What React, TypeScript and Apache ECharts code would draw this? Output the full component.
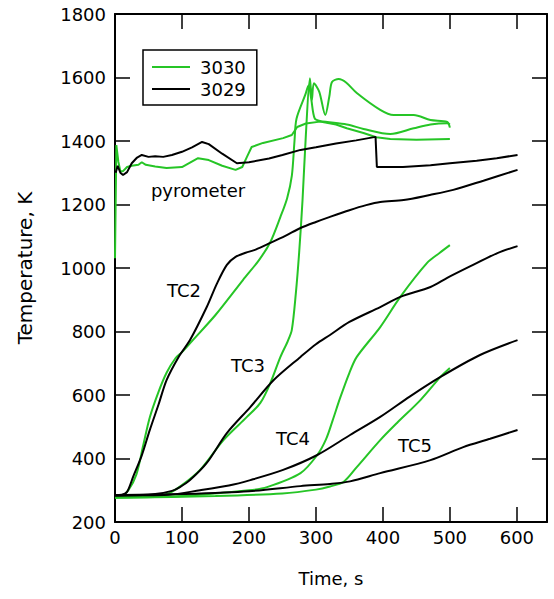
import React, { useEffect, useRef } from "react";
import * as echarts from "echarts";

// Time (s), temperature (K) pairs
const pyro3029 = [[1,1300],[4,1322],[8,1300],[12,1293],[18,1302],[25,1330],[33,1348],[40,1356],[50,1350],[60,1352],[72,1350],[85,1356],[100,1366],[115,1380],[130,1397],[140,1390],[160,1360],[182,1330],[200,1333],[230,1345],[250,1356],[277,1372],[300,1380],[330,1392],[360,1402],[389,1413],[391,1318],[400,1318],[430,1318],[471,1324],[500,1330],[540,1338],[570,1346],[601,1356]];
const pyro3030 = [[0,1031],[2,1387],[5,1335],[8,1305],[12,1305],[18,1318],[25,1322],[35,1325],[40,1333],[46,1325],[60,1320],[77,1315],[100,1318],[124,1346],[140,1340],[160,1322],[180,1309],[190,1318],[197,1350],[204,1381],[221,1394],[251,1409],[264,1419],[272,1444],[285,1455],[306,1461],[330,1452],[346,1440],[371,1425],[390,1412],[411,1406],[450,1404],[500,1406]];

const tc2_3029 = [[0,285],[10,286],[18,295],[27,342],[40,410],[52,490],[65,570],[77,647],[95,720],[112,773],[137,877],[152,950],[167,1010],[180,1035],[195,1048],[210,1058],[232,1079],[255,1102],[277,1126],[300,1145],[321,1161],[350,1182],[375,1198],[396,1208],[431,1214],[470,1230],[505,1246],[550,1275],[601,1309]];
const tc3_3029 = [[0,285],[60,288],[85,298],[97,310],[112,332],[137,386],[167,480],[202,562],[237,647],[277,720],[300,760],[321,789],[350,830],[396,877],[426,909],[471,940],[496,969],[530,1005],[571,1047],[601,1069]];
const tc4_3029 = [[0,284],[80,286],[127,300],[170,315],[202,332],[251,364],[302,411],[351,474],[396,531],[440,595],[486,657],[545,726],[601,773]];
const tc5_3029 = [[0,283],[100,288],[200,297],[277,313],[321,320],[351,328],[396,354],[471,395],[520,436],[560,462],[601,490]];

const tc2_3030 = [[0,278],[10,281],[20,300],[32,350],[42,440],[52,530],[65,610],[77,670],[90,715],[100,735],[115,770],[150,852],[191,962],[215,1025],[232,1082],[247,1161],[257,1220],[264,1290],[268,1400],[271,1470],[284,1545],[289,1575],[293,1532],[298,1472],[306,1463],[346,1452],[371,1438],[411,1422],[446,1440],[471,1452],[496,1456],[500,1452]];
const tc3_3030 = [[0,278],[60,282],[80,290],[100,316],[127,364],[162,458],[197,531],[217,575],[232,638],[247,720],[258,770],[264,805],[270,920],[275,1050],[280,1214],[285,1420],[291,1598],[294,1530],[297,1582],[305,1555],[314,1482],[320,1540],[324,1586],[334,1595],[345,1584],[361,1551],[396,1498],[416,1482],[446,1482],[471,1466],[496,1460],[500,1442]];
const tc4_3030 = [[0,277],[100,282],[200,300],[227,310],[277,354],[302,411],[315,460],[325,520],[336,590],[350,670],[361,720],[396,814],[426,909],[466,1016],[485,1048],[500,1072]];
const tc5_3030 = [[0,276],[150,282],[250,290],[300,302],[321,312],[341,326],[361,373],[396,458],[421,512],[456,584],[486,657],[500,685]];

const xMax = 645;
const yMin = 200;
const yMax = 1800;

const GREEN = "#26c526";
const FONT = "DejaVu Sans";

export default function App() {
  const ref = useRef<HTMLDivElement>(null);
  useEffect(() => {
    const chart = echarts.init(ref.current!, null, { renderer: "svg" });
    const line = (name: string, data: number[][], color: string, smooth: boolean) => ({
      type: "line",
      name,
      data,
      showSymbol: false,
      symbol: "none",
      smooth: smooth ? 0.3 : false,
      lineStyle: { color, width: 2 },
      itemStyle: { color },
      z: color === GREEN ? 2 : 3,
    });
    const axisCommon = {
      type: "value",
      axisLine: { show: true, onZero: false, lineStyle: { color: "#000", width: 2 } },
      axisTick: { show: true, inside: true, length: 15, lineStyle: { color: "#000", width: 1.5 } },
      splitLine: { show: false },
    };
    const labelStyle = { color: "#000", fontSize: 18, fontFamily: FONT };
    const plain = (v: number) => String(v);
    chart.setOption({
      animation: false,
      grid: { left: 115, right: 7, top: 14, bottom: 77 },
      legend: {
        left: 143,
        top: 50,
        orient: "vertical",
        data: ["3030", "3029"],
        icon: "rect",
        itemWidth: 38,
        itemHeight: 2,
        itemGap: 4,
        padding: [8, 11, 7, 9],
        borderColor: "#000",
        borderWidth: 1.5,
        textStyle: { ...labelStyle, padding: [0, 0, 0, 5] },
      },
      xAxis: [
        {
          ...axisCommon,
          min: 0,
          max: xMax,
          interval: 100,
          position: "bottom",
          axisLabel: { ...labelStyle, margin: 6, showMaxLabel: false, formatter: plain },
          name: "Time, s",
          nameLocation: "middle",
          nameGap: 47,
          nameTextStyle: labelStyle,
        },
        {
          ...axisCommon,
          min: 0,
          max: xMax,
          interval: 100,
          position: "top",
          axisLabel: { show: false },
        },
      ],
      yAxis: [
        {
          ...axisCommon,
          min: yMin,
          max: yMax,
          interval: 200,
          position: "left",
          axisLabel: { ...labelStyle, margin: 9, formatter: plain },
          name: "Temperature, K",
          nameLocation: "middle",
          nameGap: 80,
          nameTextStyle: { ...labelStyle, fontSize: 20 },
        },
        {
          ...axisCommon,
          min: yMin,
          max: yMax,
          interval: 200,
          position: "right",
          axisLabel: { show: false },
        },
      ],
      graphic: [
        { type: "text", x: 198, y: 190, style: { text: "pyrometer", fill: "#000", fontSize: 18, fontFamily: FONT, align: "center", verticalAlign: "middle" } },
        { type: "text", x: 184, y: 290, style: { text: "TC2", fill: "#000", fontSize: 18, fontFamily: FONT, align: "center", verticalAlign: "middle" } },
        { type: "text", x: 248, y: 365, style: { text: "TC3", fill: "#000", fontSize: 18, fontFamily: FONT, align: "center", verticalAlign: "middle" } },
        { type: "text", x: 293, y: 438, style: { text: "TC4", fill: "#000", fontSize: 18, fontFamily: FONT, align: "center", verticalAlign: "middle" } },
        { type: "text", x: 415, y: 445, style: { text: "TC5", fill: "#000", fontSize: 18, fontFamily: FONT, align: "center", verticalAlign: "middle" } },
      ],
      series: [
        line("3030", pyro3030, GREEN, false),
        line("3030", tc2_3030, GREEN, true),
        line("3030", tc3_3030, GREEN, true),
        line("3030", tc4_3030, GREEN, true),
        line("3030", tc5_3030, GREEN, true),
        line("3029", pyro3029, "#000", false),
        line("3029", tc2_3029, "#000", true),
        line("3029", tc3_3029, "#000", true),
        line("3029", tc4_3029, "#000", true),
        line("3029", tc5_3029, "#000", true),
      ],
    });
    return () => chart.dispose();
  }, []);
  return <div ref={ref} style={{ width: 554, height: 599, position: "absolute", left: 0, top: 0 }} />;
}
